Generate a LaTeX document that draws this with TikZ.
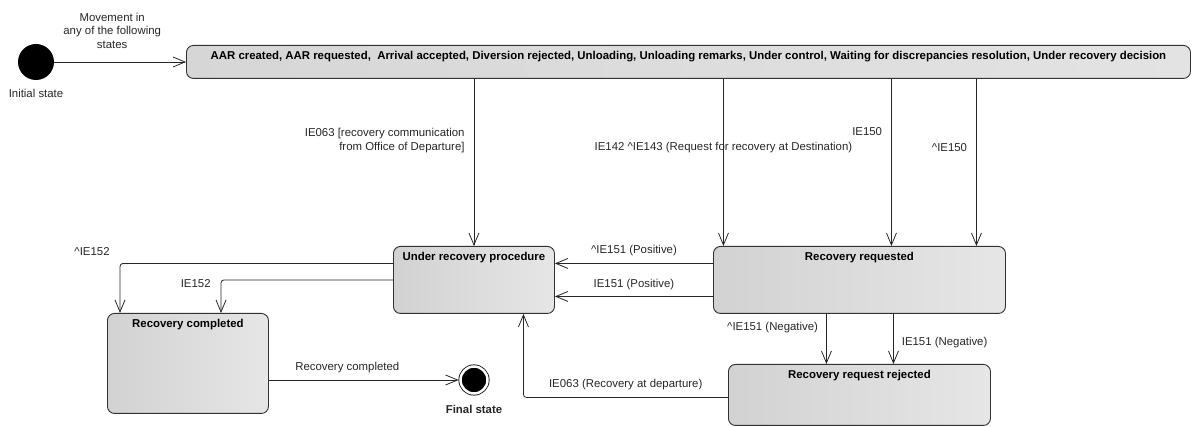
\documentclass[tikz,border=0pt]{standalone}
\usepackage{fontspec}
\setmainfont{Liberation Sans}
\usepackage{xcolor}
\usetikzlibrary{arrows.meta, positioning}
\definecolor{stateleft}{RGB}{210, 210, 210}
\definecolor{stateright}{RGB}{230, 230, 230}
\definecolor{stateborder}{RGB}{50, 50, 50}

\begin{document}
\begin{tikzpicture}[x=1pt, y=-1pt, font=\fontsize{11.4}{13.5}\selectfont]
    % Styles
    \tikzstyle{statebox} = [rectangle, draw=stateborder, line width=0.9pt, rounded corners=7pt, left color=stateleft, right color=stateright, anchor=north west, inner sep=0pt]
    \tikzstyle{statename} = [font=\fontsize{11.4}{13.5}\selectfont\bfseries, anchor=north, yshift=-5.5pt, inner sep=1pt]
    \tikzstyle{trans} = [line width=0.8pt, black!85, rounded corners=3pt, -{Straight Barb[length=12pt, width=10pt, line width=0.8pt]}]
    \tikzstyle{lbl} = [font=\fontsize{11.4}{13.5}\selectfont, inner sep=1pt, black!85]
    \useasboundingbox (0,0) rectangle (1192,427);

    % Nodes
    \node [circle, fill=black, minimum size=36pt, inner sep=0pt, label={[lbl, label distance=8pt]below:Initial state}] (init) at (36,62) {};
    \node [statebox, minimum width=1004pt, minimum height=33pt, left color=black!16, right color=black!11,
           label={[statename]north:AAR created, AAR requested,\ \ Arrival accepted, Diversion rejected, Unloading, Unloading remarks, Under control, Waiting for discrepancies resolution, Under recovery decision}] (movstates) at (186,45) {};
    \node [statebox, minimum width=161pt, minimum height=67pt, label={[statename]north:Under recovery procedure}] (recproc) at (393,246) {};
    \node [statebox, minimum width=292pt, minimum height=67pt, label={[statename]north:Recovery requested}] (recreq) at (713,246) {};
    \node [statebox, minimum width=262pt, minimum height=61pt, label={[statename]north:Recovery request rejected}] (recrej) at (728,364) {};
    \node [statebox, minimum width=161pt, minimum height=100pt, label={[statename]north:Recovery completed}] (recdone) at (107,313) {};
    \node [circle, fill=black, draw=black, line width=0.8pt, double=white, double distance=2.5pt, minimum size=27pt, inner sep=0pt,
           label={[lbl, font=\fontsize{11.4}{13.5}\selectfont\bfseries, label distance=10pt]below:Final state}] (final) at (474,380) {};

    % Arrows
    \draw [trans] (init) -- node [lbl, above=12pt, pos=0.44, align=center] (movlbl) {Movement in\\any of the following\\states} (init -| movstates.west);
    \draw [trans] (recproc.north |- movstates.south) -- node [lbl, left=8pt, pos=0.37, align=right] (ie063lbl) {IE063 [recovery communication\\from Office of Departure]} (recproc.north);
    \draw [trans] ([xshift=-136pt]recreq.north |- movstates.south) -- node [lbl, pos=0.41] (ie142lbl) {IE142 \textasciicircum IE143 (Request for recovery at Destination)} ([xshift=-136pt]recreq.north);
    \draw [trans] ([xshift=32pt]recreq.north |- movstates.south) -- node [lbl, left=8pt, pos=0.315] (ie150lbl) {IE150} ([xshift=32pt]recreq.north);
    \draw [trans] ([xshift=117pt]recreq.north |- movstates.south) -- node [lbl, left=8pt, pos=0.41] (ie150slbl) {\textasciicircum IE150} ([xshift=117pt]recreq.north);

    \draw [trans] ([yshift=16.5pt]recreq.west) -- node [lbl, above=6.5pt] (pos1lbl) {\textasciicircum IE151 (Positive)} ([yshift=16.5pt]recproc.east);
    \draw [trans] ([yshift=-16.5pt]recreq.west) -- node [lbl, above=5.5pt] (pos2lbl) {IE151 (Positive)} ([yshift=-16.5pt]recproc.east);

    \draw [trans] ([yshift=16.5pt]recproc.west) -| node [lbl, pos=0.5, above left=6pt and 9pt] (ie152slbl) {\textasciicircum IE152} ([xshift=13pt]recdone.north west);
    \draw [trans] (recproc.west) -| node [lbl, pos=0.5, left=9pt, yshift=-4pt] (ie152lbl) {IE152} ([xshift=114pt]recdone.north west);

    \draw [trans] ([xshift=-33pt]recreq.south) -- node [lbl, left=7pt, pos=0.27] (neg1lbl) {\textasciicircum IE151 (Negative)} ([xshift=-33pt]recreq.south |- recrej.north);
    \draw [trans] ([xshift=34pt]recreq.south) -- node [lbl, right=7pt, pos=0.57] (neg2lbl) {IE151 (Negative)} ([xshift=34pt]recreq.south |- recrej.north);

    \draw [trans] ([yshift=-2.5pt]recrej.west) -| node [lbl, above=6.5pt, pos=0.25] (ie063blbl) {IE063 (Recovery at departure)} ([xshift=49.5pt]recproc.south);
    \draw [trans, shorten >=1.5pt] (recdone.east |- final.west) -- node [lbl, above=5.5pt, pos=0.41] (donelbl) {Recovery completed} (final.west);
\end{tikzpicture}
\end{document}
